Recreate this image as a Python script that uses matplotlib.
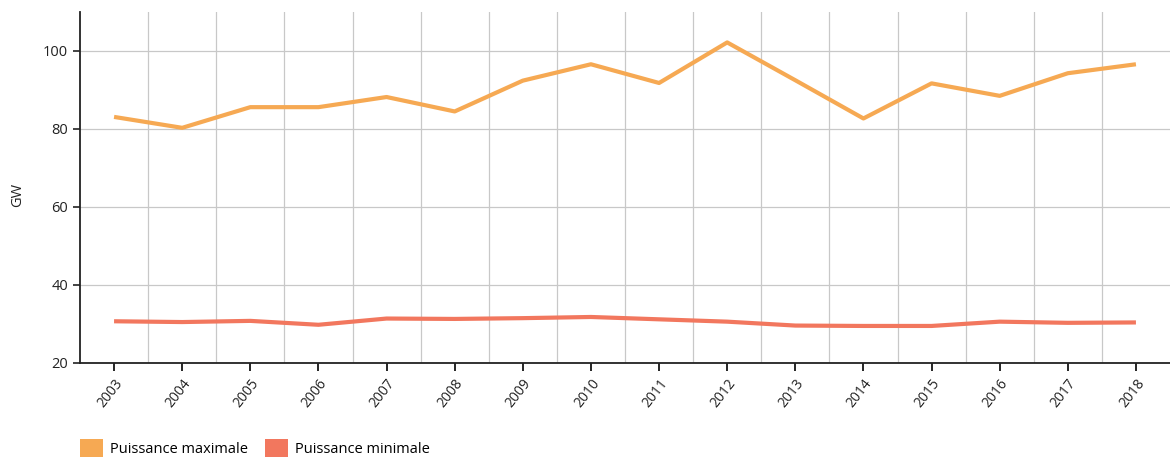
import numpy as np
import matplotlib
matplotlib.use('Agg')
import matplotlib.pyplot as plt
from matplotlib.patches import Patch

plt.rcParams['font.family'] = ['Open Sans', 'DejaVu Sans']

# Données
annees = [2003, 2004, 2005, 2006, 2007, 2008, 2009, 2010,
          2011, 2012, 2013, 2014, 2015, 2016, 2017, 2018]
p_max = [83.1, 80.3, 85.6, 85.6, 88.2, 84.5, 92.4, 96.6,
         91.8, 102.2, 92.5, 82.7, 91.7, 88.5, 94.3, 96.6]
p_min = [30.7, 30.5, 30.8, 29.8, 31.4, 31.3, 31.5, 31.8,
         31.2, 30.6, 29.6, 29.5, 29.5, 30.6, 30.3, 30.4]
labels = ['Puissance maximale', 'Puissance minimale']
couleurs = ['#f6a953', '#f2775e']

fig = plt.figure(figsize=(11.7, 4.57), dpi=100)
ax = fig.add_axes([80 / 1170, 1 - 363 / 457, 1 - 80 / 1170, (363 - 12) / 457])

ax.plot(annees, p_max, color=couleurs[0], lw=3, solid_capstyle='butt', zorder=3)
ax.plot(annees, p_min, color=couleurs[1], lw=3, solid_capstyle='butt', zorder=3)

ax.set_xlim(2002.5, 2018.5)
ax.set_ylim(20, 110)
ax.set_xticks(annees)
ax.set_xticklabels([str(a) for a in annees], rotation=52, ha='right',
                   rotation_mode='anchor', fontsize=10, color='#222222')
ax.set_yticks([20, 40, 60, 80, 100])
ax.tick_params(axis='y', labelsize=10.5, colors='#222222', length=5, width=1.2)
ax.tick_params(axis='x', length=6, width=1.2)

# grille verticale entre les années
ax.set_xticks(np.arange(2003.5, 2018, 1), minor=True)
ax.tick_params(axis='x', which='minor', length=0)
ax.grid(which='minor', axis='x', color='#c8c8c8', lw=0.9)
ax.grid(which='major', axis='y', color='#c8c8c8', lw=0.9)
ax.set_axisbelow(True)

for s in ['top', 'right']:
    ax.spines[s].set_visible(False)
for s in ['left', 'bottom']:
    ax.spines[s].set_linewidth(1.3)
    ax.spines[s].set_color('#222222')

fig.text(18 / 1170, 1 - 195 / 457, 'GW', rotation=90, ha='center', va='center',
         fontsize=10.5, color='#222222')

handles = [Patch(facecolor=c, edgecolor='none') for c in couleurs]
fig.legend(handles, labels, loc='upper left', bbox_to_anchor=(74 / 1170, 1 - 433 / 457),
           ncol=2, frameon=False, fontsize=10.5, handlelength=1.6, handleheight=1.6,
           handletextpad=0.5, columnspacing=1.1, borderaxespad=0)

fig.savefig('out.png', dpi=100)
